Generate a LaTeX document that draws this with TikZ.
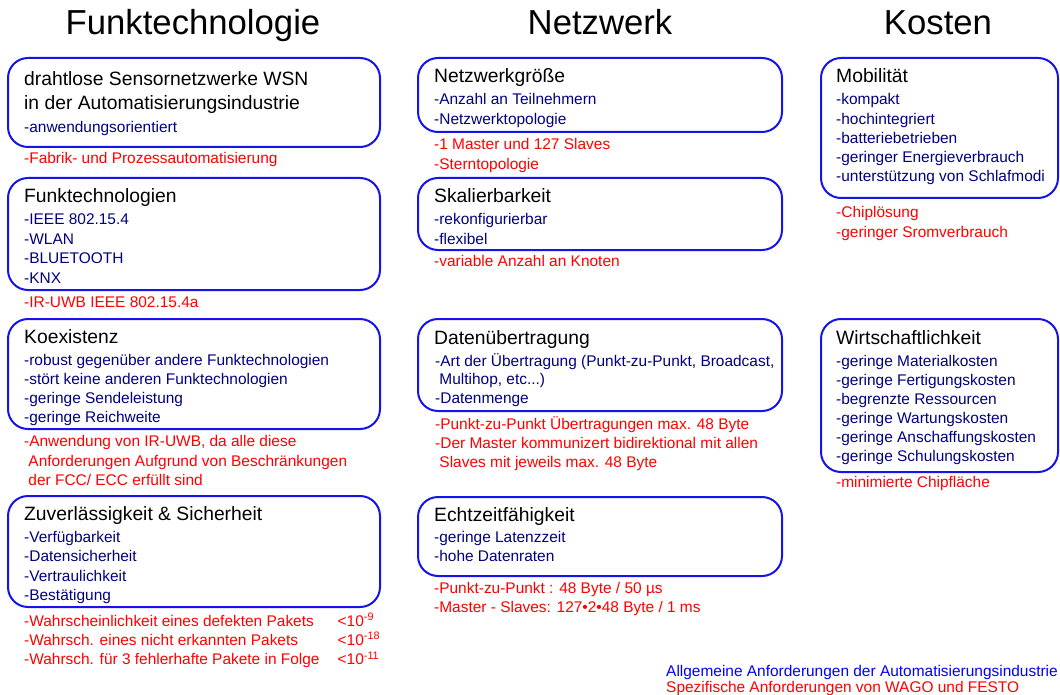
\documentclass[tikz,border=0pt]{standalone}
\usepackage{fontspec}
\setmainfont{Liberation Sans}
\definecolor{rahmen}{RGB}{20,20,235}
\definecolor{dunkelblau}{RGB}{0,0,128}
\definecolor{hellblau}{RGB}{0,0,255}
\tikzset{
  feld/.style={draw=rahmen, line width=2pt, rounded corners=20pt},
  kopf/.style={font=\fontsize{34.7}{40}\selectfont, anchor=base, inner sep=0pt},
  titel/.style={font=\fontsize{19.3}{23.5}\selectfont, anchor=base west, inner sep=0pt, yshift=-1pt},
  punkt/.style={text=dunkelblau, font=\fontsize{15.45}{19.4}\selectfont, anchor=base west, inner sep=0pt, yshift=-1pt},
  spez/.style={punkt, text=red},
}
\begin{document}
\begin{tikzpicture}[x=1pt,y=-1pt]
  \useasboundingbox (0,0) rectangle (1060,695);
  % Spaltenkoepfe
  \node[kopf] (kfunk) at (193,35) {Funktechnologie};
  \node[kopf] (knetz) at (600,35) {Netzwerk};
  \node[kopf] (kkost) at (938,35) {Kosten};

  % Spalte 1: Funktechnologie
  \draw[feld] (8,58) rectangle (380,147);
  \node[titel] (wsn) at (24,85) {drahtlose Sensornetzwerke WSN};
  \node[titel] (wsnb) at (24,108.5) {in der Automatisierungsindustrie};
  \node[punkt] (wsn0) at (24,131.7) {-anwendungsorientiert};
  \node[spez] (wsnr) at (24,163) {-Fabrik- und Prozessautomatisierung};

  \draw[feld] (8,178) rectangle (380,290);
  \node[titel] (funk) at (24,201.7) {Funktechnologien};
  \foreach \z [count=\i from 0] in {-IEEE 802.15.4,-WLAN,-BLUETOOTH,-KNX}
    \node[punkt] (funk\i) at (24,224+19.4*\i) {\z};
  \node[spez] (funkr) at (24,306) {-IR-UWB IEEE 802.15.4a};

  \draw[feld] (8,319) rectangle (380,429);
  \node[titel] (koex) at (24,342.3) {Koexistenz};
  \foreach \z [count=\i from 0] in {-robust gegenüber andere Funktechnologien,
      -stört keine anderen Funktechnologien,-geringe Sendeleistung,-geringe Reichweite}
    \node[punkt] (koex\i) at (24,364.3+19.2*\i) {\z};
  \foreach \z [count=\i from 0] in {{-Anwendung von IR-UWB, da alle diese},
      \ Anforderungen Aufgrund von Beschränkungen,\ der FCC/ ECC erfüllt sind}
    \node[spez] (koexr\i) at (24,445.7+19.3*\i) {\z};

  \draw[feld] (8,496) rectangle (380,607);
  \node[titel] (zuv) at (24,519.3) {Zuverlässigkeit \& Sicherheit};
  \foreach \z [count=\i from 0] in {-Verfügbarkeit,-Datensicherheit,-Vertraulichkeit,-Bestätigung}
    \node[punkt] (zuv\i) at (24,541.7+19.2*\i) {\z};
  \foreach \z/\w [count=\i from 0] in {-Wahrscheinlichkeit eines defekten Pakets/9,
      -Wahrsch. eines nicht erkannten Pakets/18,-Wahrsch. für 3 fehlerhafte Pakete in Folge/11}{
    \node[spez] (zuvr\i) at (24,625+19.2*\i) {\z};
    \node[spez] (zuvw\i) at (337.5,625+19.2*\i) {<10\textsuperscript{-\w}};
  }

  % Spalte 2: Netzwerk
  \draw[feld] (418,58) rectangle (782,132);
  \node[titel] (groe) at (434,81.7) {Netzwerkgröße};
  \foreach \z [count=\i from 0] in {-Anzahl an Teilnehmern,-Netzwerktopologie}
    \node[punkt] (groe\i) at (434,104+19.2*\i) {\z};
  \foreach \z [count=\i from 0] in {-1 Master und 127 Slaves,-Sterntopologie}
    \node[spez] (groer\i) at (434,149+19.3*\i) {\z};

  \draw[feld] (418,178) rectangle (782,250);
  \node[titel] (skal) at (434,201.7) {Skalierbarkeit};
  \foreach \z [count=\i from 0] in {-rekonfigurierbar,-flexibel}
    \node[punkt] (skal\i) at (434,224+19*\i) {\z};
  \node[spez] (skalr) at (434,265) {-variable Anzahl an Knoten};

  \draw[feld] (418,319) rectangle (782,411);
  \node[titel] (daten) at (434,343.3) {Datenübertragung};
  \node[punkt] (daten0) at (435,365) {-Art der Übertragung (Punkt-zu-Punkt, Broadcast,};
  \node[punkt] (daten1) at (435,383.9) {\ Multihop, etc...)};
  \node[punkt] (daten2) at (435,402.8) {-Datenmenge};
  \foreach \z [count=\i from 0] in {-Punkt-zu-Punkt Übertragungen max. 48 Byte,
      -Der Master kommunizert bidirektional mit allen,\ Slaves mit jeweils max. 48 Byte}
    \node[spez] (datenr\i) at (435,428.3+19.2*\i) {\z};

  \draw[feld] (418,497) rectangle (782,576);
  \node[titel] (echt) at (434,520) {Echtzeitfähigkeit};
  \foreach \z [count=\i from 0] in {-geringe Latenzzeit,-hohe Datenraten}
    \node[punkt] (echt\i) at (434,541.7+19*\i) {\z};
  \foreach \z [count=\i from 0] in {-Punkt-zu-Punkt : 48 Byte / 50 µs,
      -Master - Slaves: 127•2•48 Byte / 1 ms}
    \node[spez] (echtr\i) at (434,592.7+19*\i) {\z};

  % Spalte 3: Kosten
  \draw[feld] (821,58) rectangle (1058,198);
  \node[titel] (mob) at (836,81.7) {Mobilität};
  \foreach \z [count=\i from 0] in {-kompakt,-hochintegriert,-batteriebetrieben,
      -geringer Energieverbrauch,-unterstützung von Schlafmodi}
    \node[punkt] (mob\i) at (836,104+19.25*\i) {\z};
  \foreach \z [count=\i from 0] in {-Chiplösung,-geringer Sromverbrauch}
    \node[spez] (mobr\i) at (836,216.7+19.3*\i) {\z};

  \draw[feld] (821,319) rectangle (1058,472);
  \node[titel] (wirt) at (836,343.3) {Wirtschaftlichkeit};
  \foreach \z [count=\i from 0] in {-geringe Materialkosten,-geringe Fertigungskosten,
      -begrenzte Ressourcen,-geringe Wartungskosten,-geringe Anschaffungskosten,
      -geringe Schulungskosten}
    \node[punkt] (wirt\i) at (836,365+19.15*\i) {\z};
  \node[spez] (wirtr) at (836,486.7) {-minimierte Chipfläche};

  % Legende
  \node[punkt, text=hellblau] (leg1) at (666,675) {Allgemeine Anforderungen der Automatisierungsindustrie};
  \node[spez] (leg2) at (666,691) {Spezifische Anforderungen von WAGO und FESTO};
\end{tikzpicture}
\end{document}
